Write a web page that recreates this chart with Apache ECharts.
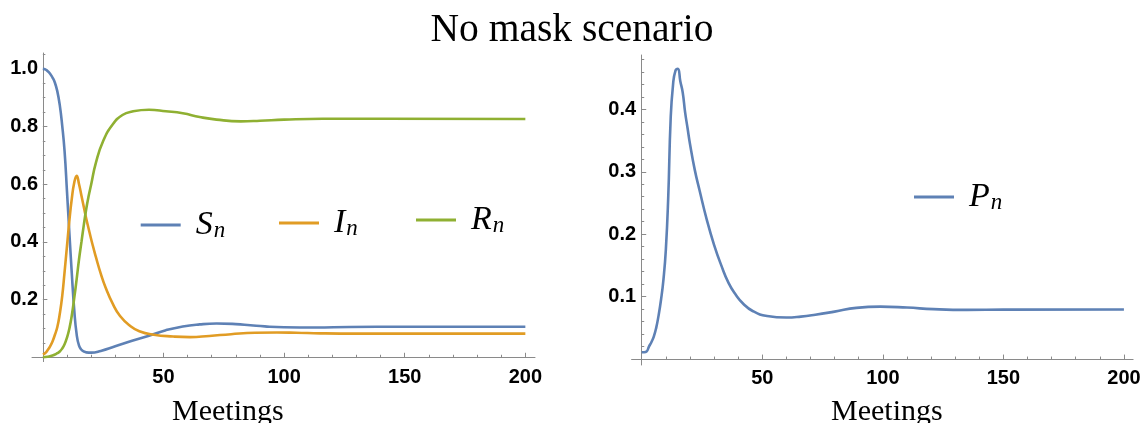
<!DOCTYPE html>
<html>
<head>
<meta charset="utf-8">
<script src="https://cdn.jsdelivr.net/npm/echarts@6/dist/echarts.min.js"></script>
<style>
  html, body { margin: 0; padding: 0; background: #ffffff; }
  #chart { width: 1144px; height: 423px; }
</style>
</head>
<body>
<div id="chart"></div>
<script>
// ---------- data ----------
const titleText = 'No mask scenario';
const xAxisName = 'Meetings';

const meetingsS = [0, 1, 2, 3, 4, 5, 6, 7, 8, 9, 10, 11, 12, 13, 14, 15, 16, 17, 18, 20, 24, 30, 37, 44, 51, 58, 65, 72, 80, 86, 92, 100, 113, 127, 150, 200];
const valuesS   = [1.0, 0.998, 0.992, 0.983, 0.97, 0.952, 0.922, 0.875, 0.805, 0.715, 0.575, 0.43, 0.29, 0.165, 0.08, 0.04, 0.026, 0.02, 0.017, 0.016, 0.022, 0.038, 0.057, 0.075, 0.094, 0.107, 0.114, 0.117, 0.115, 0.111, 0.107, 0.104, 0.103, 0.105, 0.106, 0.106];

const meetingsI = [0, 1, 2, 3, 4, 5, 6, 7, 8, 9, 10, 11, 12, 13, 14, 15, 16, 17, 18, 19, 20, 21, 22, 24, 26, 29, 32, 36, 40, 46, 54, 61, 69, 78, 88, 97, 105, 115, 130, 200];
const valuesI   = [0.01, 0.015, 0.025, 0.038, 0.055, 0.078, 0.105, 0.15, 0.21, 0.295, 0.385, 0.475, 0.55, 0.605, 0.629, 0.6, 0.56, 0.52, 0.48, 0.445, 0.41, 0.378, 0.347, 0.29, 0.242, 0.185, 0.143, 0.11, 0.09, 0.078, 0.072, 0.07, 0.074, 0.08, 0.085, 0.086, 0.085, 0.083, 0.082, 0.082];

const meetingsR = [0, 2, 4, 6, 7, 8, 9, 10, 11, 12, 13, 14, 15, 16, 17, 18, 19, 20, 22, 25, 29, 33, 37, 44, 51, 58, 65, 72, 82, 90, 100, 116, 141, 200];
const valuesR   = [0.0, 0.002, 0.006, 0.014, 0.02, 0.03, 0.045, 0.068, 0.1, 0.145, 0.205, 0.27, 0.34, 0.4, 0.46, 0.515, 0.56, 0.598, 0.675, 0.75, 0.808, 0.84, 0.852, 0.858, 0.853, 0.846, 0.833, 0.824, 0.818, 0.82, 0.824, 0.827, 0.827, 0.826];

const meetingsP = [0, 1, 2, 3, 4, 5, 6, 7, 8, 9, 10, 11, 12, 13, 14, 15, 16, 17, 18, 19, 20, 22, 24, 27, 30, 33, 36, 39, 42, 46, 52, 60, 66, 72, 80, 89, 99, 110, 121, 135, 150, 200];
const valuesP   = [0.011, 0.011, 0.012, 0.02, 0.027, 0.036, 0.05, 0.07, 0.095, 0.127, 0.175, 0.26, 0.385, 0.44, 0.462, 0.465, 0.445, 0.427, 0.395, 0.37, 0.345, 0.303, 0.27, 0.223, 0.183, 0.15, 0.122, 0.103, 0.089, 0.077, 0.069, 0.0665, 0.068, 0.071, 0.076, 0.082, 0.084, 0.0825, 0.08, 0.0788, 0.0792, 0.0795];

const xMajorTicks = [50, 100, 150, 200];
const xMinorTicks = [10, 20, 30, 40, 60, 70, 80, 90, 110, 120, 130, 140, 160, 170, 180, 190];
const yLeftMajorTicks = [0.2, 0.4, 0.6, 0.8, 1.0];
const yLeftMinorTicks = [0.05, 0.1, 0.15, 0.25, 0.3, 0.35, 0.45, 0.5, 0.55, 0.65, 0.7, 0.75, 0.85, 0.9, 0.95, 1.05];
const yRightMajorTicks = [0.1, 0.2, 0.3, 0.4];
const yRightMinorTicks = [0.02, 0.04, 0.06, 0.08, 0.12, 0.14, 0.16, 0.18, 0.22, 0.24, 0.26, 0.28, 0.32, 0.34, 0.36, 0.38, 0.42, 0.44, 0.46, 0.48];

// ---------- styling ----------
const colS = '#5E81B5', colI = '#E19C24', colR = '#8FB032', colP = '#5E81B5';
const axisGray = '#8a8a8a';
const labelFont = { fontFamily: 'Liberation Sans', fontWeight: 'bold', fontSize: 20, color: '#000' };

const leftRange = { xmin: -4.5, xmax: 204, ymin: -0.015, ymax: 1.055 };
const rightRange = { xmin: -4.2, xmax: 203.8, ymin: -0.0095, ymax: 0.487 };
const leftRect = { left: 32, top: 53, width: 503, height: 308.6 };
const rightRect = { left: 631.6, top: 55, width: 501.5, height: 310 };

function pairs(xs, ys) { return xs.map((x, i) => [x, ys[i]]); }

function majorX(gridIndex, r, labelMargin) {
  return {
    type: 'value', gridIndex, min: r.xmin, max: r.xmax, position: 'bottom',
    axisLine: { show: true, onZero: true, lineStyle: { color: axisGray, width: 1 } },
    axisTick: { show: true, inside: true, length: 4.5, customValues: xMajorTicks, lineStyle: { color: axisGray } },
    axisLabel: Object.assign({ show: true, customValues: xMajorTicks, margin: labelMargin, formatter: v => String(v) }, labelFont),
    splitLine: { show: false }
  };
}
function minorX(gridIndex, r) {
  return {
    type: 'value', gridIndex, min: r.xmin, max: r.xmax, position: 'bottom',
    axisLine: { show: false, onZero: true },
    axisTick: { show: true, inside: true, length: 2.5, customValues: xMinorTicks, lineStyle: { color: axisGray } },
    axisLabel: { show: false },
    splitLine: { show: false }
  };
}
function majorY(gridIndex, r, ticks, labelMargin) {
  return {
    type: 'value', gridIndex, min: r.ymin, max: r.ymax, position: 'left',
    axisLine: { show: true, onZero: true, lineStyle: { color: axisGray, width: 1 } },
    axisTick: { show: true, inside: true, length: 4.5, customValues: ticks, lineStyle: { color: axisGray } },
    axisLabel: Object.assign({ show: true, customValues: ticks, margin: labelMargin, formatter: v => v.toFixed(1) }, labelFont),
    splitLine: { show: false }
  };
}
function minorY(gridIndex, r, ticks) {
  return {
    type: 'value', gridIndex, min: r.ymin, max: r.ymax, position: 'left',
    axisLine: { show: false, onZero: true },
    axisTick: { show: true, inside: true, length: 2.5, customValues: ticks, lineStyle: { color: axisGray } },
    axisLabel: { show: false },
    splitLine: { show: false }
  };
}

const mathRich = {
  v: { fontFamily: 'Liberation Serif', fontStyle: 'italic', fontSize: 34, lineHeight: 34, color: '#000', padding: [0, 1, 0, 10] },
  s: { fontFamily: 'Liberation Serif', fontStyle: 'italic', fontSize: 23, lineHeight: 12, color: '#000', verticalAlign: 'bottom' }
};
function legendAt(name, left, top) {
  return {
    data: [name], left, top, orient: 'horizontal', padding: 0,
    itemWidth: 40, itemHeight: 3, icon: 'rect', selectedMode: false,
    formatter: n => '{v|' + n + '}{s|n}',
    textStyle: { rich: mathRich }
  };
}

function lineSeries(name, xs, ys, color, xi, yi) {
  return {
    name, type: 'line', xAxisIndex: xi, yAxisIndex: yi,
    data: pairs(xs, ys), showSymbol: false, smooth: 0.5,
    lineStyle: { color, width: 2.6 }, itemStyle: { color },
    emphasis: { disabled: true }, animation: false
  };
}

const chart = echarts.init(document.getElementById('chart'), null, { renderer: 'canvas' });
chart.setOption({
  backgroundColor: '#ffffff',
  animation: false,
  title: {
    text: titleText, left: 'center', top: 6,
    textStyle: { fontFamily: 'Liberation Serif', fontWeight: 'normal', fontSize: 39.5, color: '#000' }
  },
  grid: [
    Object.assign({}, leftRect), Object.assign({}, rightRect),
    Object.assign({}, leftRect), Object.assign({}, rightRect)
  ],
  xAxis: [majorX(0, leftRange, 6), majorX(1, rightRange, 3), minorX(2, leftRange), minorX(3, rightRange)],
  yAxis: [
    majorY(0, leftRange, yLeftMajorTicks, -6), majorY(1, rightRange, yRightMajorTicks, -4.5),
    minorY(2, leftRange, yLeftMinorTicks), minorY(3, rightRange, yRightMinorTicks)
  ],
  legend: [
    legendAt('S', 140.7, 208),
    legendAt('I', 279, 206),
    legendAt('R', 416, 203),
    legendAt('P', 914, 180)
  ],
  series: [
    lineSeries('S', meetingsS, valuesS, colS, 0, 0),
    lineSeries('I', meetingsI, valuesI, colI, 0, 0),
    lineSeries('R', meetingsR, valuesR, colR, 0, 0),
    lineSeries('P', meetingsP, valuesP, colP, 1, 1)
  ],
  graphic: [
    { type: 'text', left: 229 - 57, top: 397,
      style: { text: xAxisName, fontFamily: 'Liberation Serif', fontSize: 30, fill: '#000' } },
    { type: 'text', left: 888 - 57, top: 397,
      style: { text: xAxisName, fontFamily: 'Liberation Serif', fontSize: 30, fill: '#000' } }
  ]
});
</script>
</body>
</html>
